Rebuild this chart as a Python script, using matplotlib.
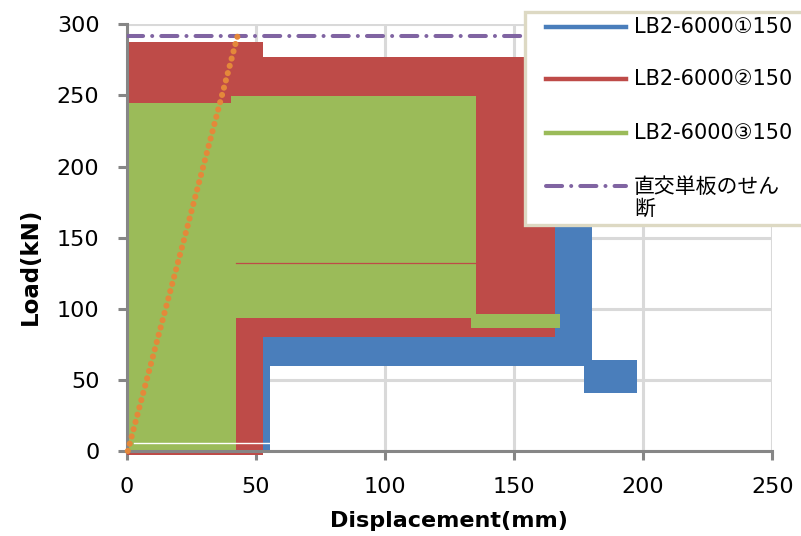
import matplotlib
matplotlib.use('Agg')
import matplotlib.pyplot as plt
from matplotlib.lines import Line2D
from matplotlib.patches import Rectangle

# outlines of the dense cyclic traces: displacement (mm), load (kN)
lb1_disp = [52.8, 55.6, 55.6, 177.1, 177.1, 197.6, 197.6, 180.3, 180.3, 52.8]
lb1_load = [-1.2, -1.2, 59.8, 59.8, 40.8, 40.8, 64.0, 64.0, 200.0, 200.0]

lb2_disp = [0.0, 52.8, 52.8, 165.9, 165.9, 52.8, 52.8, 0.0]
lb2_load = [-2.8, -2.8, 79.9, 79.9, 277.0, 277.0, 287.6, 287.6]

lb3_disp = [0.0, 42.4, 42.4, 135.3, 135.3, 40.5, 40.5, 0.0]
lb3_load = [-1.2, -1.2, 93.5, 93.5, 249.6, 249.6, 244.7, 244.7]
lb3_tail_disp = [133.4, 167.8, 167.8, 133.4]
lb3_tail_load = [86.5, 86.5, 96.3, 96.3]

# stray single traces
trace_disp = [42.4, 135.3]
trace_load = [132.0, 132.0]
base_disp = [2.9, 55.6]
base_load = [5.8, 5.8]

# initial stiffness line and shear capacity of the cross plate
stiff_disp = [0.5, 22.9, 43.6]
stiff_load = [0.0, 153.0, 296.0]
shear_disp = [0.0, 250.0]
shear_load = [292.0, 292.0]

labels = ["LB2-6000\u2460150", "LB2-6000\u2461150", "LB2-6000\u2462150",
          "直交単板のせん\n断"]
colors = ["#4a7ebb", "#be4b48", "#9bbb59", "#8064a2"]

W, H = 801, 536
fig = plt.figure(figsize=(W / 100, H / 100), dpi=100)
ax = fig.add_axes([126.5 / W, 1 - 451 / H, (772.3 - 126.5) / W, (451 - 24.3) / H])

ax.fill(lb1_disp, lb1_load, color=colors[0], lw=0, zorder=2, clip_on=False)
ax.fill(lb2_disp, lb2_load, color=colors[1], lw=0, zorder=2.1, clip_on=False)
ax.fill(lb3_disp, lb3_load, color=colors[2], lw=0, zorder=2.2, clip_on=False)
ax.fill(lb3_tail_disp, lb3_tail_load, color=colors[2], lw=0, zorder=2.2)
ax.plot(trace_disp, trace_load, color=colors[1], lw=0.9, zorder=2.3)
ax.plot(base_disp, base_load, color='white', lw=1.0, zorder=2.3)

dash_dot = (0, (4, 2.25, 0.01, 2.25))
ax.plot(shear_disp, shear_load, color=colors[3], lw=2.9, ls=dash_dot,
        dash_capstyle='round', zorder=3)
ax.plot(stiff_disp, stiff_load, color='#e4883a', lw=4.4, ls=(0, (0.01, 1.22)),
        dash_capstyle='round', zorder=3.1, clip_on=False)

ax.set_xlim(0, 250)
ax.set_ylim(0, 300)
ax.set_xticks(range(0, 251, 50))
ax.set_yticks(range(0, 301, 50))
ax.set_axisbelow(True)
ax.grid(color='#d9d9d9', lw=2.2)
for s in ['top', 'right']:
    ax.spines[s].set_visible(False)
for s in ['left', 'bottom']:
    ax.spines[s].set_color('#868686')
    ax.spines[s].set_linewidth(2.2)
ax.tick_params(direction='out', length=6.5, width=2.2, color='#868686',
               labelsize=16, labelcolor='black')
ax.tick_params(axis='y', pad=13)
ax.tick_params(axis='x', pad=12)

ax.set_xlabel("Displacement(mm)", fontsize=16, fontweight='bold')
ax.set_ylabel("Load(kN)", fontsize=16.5, fontweight='bold')
ax.xaxis.set_label_coords(0.5, (451 - 521) / (451 - 24.3))
ax.xaxis.label.set_va('center')
ax.yaxis.set_label_coords((30 - 126.5) / (772.3 - 126.5), (451 - 266) / (451 - 24.3))
ax.yaxis.label.set_va('center')

# legend box, cut off by the right edge like the original
box = Rectangle((525 / W, 1 - 225 / H), (840 - 525) / W, (225 - 11.7) / H,
                transform=fig.transFigure, facecolor='white', edgecolor='#ddd9c3',
                lw=2.4, zorder=10, clip_on=False)
fig.patches.append(box)
entry_y = [27, 79, 133, 186]
for i, lab in enumerate(labels):
    yy = 1 - entry_y[i] / H
    ls = dash_dot if i == 3 else '-'
    fig.lines.append(Line2D([546 / W, 626 / W], [yy, yy], transform=fig.transFigure,
                            color=colors[i], lw=3.2 if i < 3 else 2.9, ls=ls,
                            dash_capstyle='round', zorder=11))
    ty = yy if i < 3 else 1 - 198 / H
    fig.text(634 / W, ty, lab, fontsize=15, va='center', ha='left',
             family=['DejaVu Sans', 'Noto Sans CJK JP'], linespacing=1.15, zorder=12)

fig.savefig('out.png', dpi=100)
